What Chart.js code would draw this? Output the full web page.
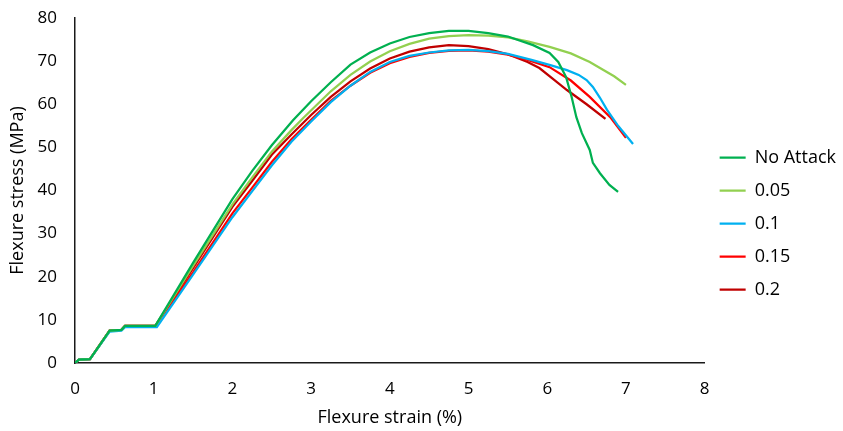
<!DOCTYPE html>
<html>
<head>
<meta charset="utf-8">
<script src="https://cdn.jsdelivr.net/npm/chart.js@4"></script>
<style>
    html, body { margin: 0; padding: 0; background: #fff; }
    #wrap { width: 843px; height: 431px; }
</style>
</head>
<body>
<div id="wrap"><canvas id="myChart"></canvas></div>
<script>
"use strict"

// strain (%) and stress (MPa)
const seriesNames = ["No Attack", "0.05", "0.1", "0.15", "0.2"]

const noAttackStrain = [0, 0.05, 0.19, 0.44, 0.59, 0.635, 1.02, 1.5, 2, 2.25, 2.5, 2.77, 3, 3.25, 3.5, 3.75, 4, 4.25, 4.5, 4.75, 5, 5.25, 5.5, 5.82, 6.03, 6.14, 6.24, 6.31, 6.37, 6.44, 6.54, 6.58, 6.67, 6.79, 6.9]
const noAttackStress = [0, 0.8, 0.9, 7.5, 7.7, 8.6, 8.6, 23.2, 38, 44.5, 50.5, 56.3, 60.7, 65.1, 69.2, 72, 74.1, 75.6, 76.5, 77, 77, 76.5, 75.7, 73.7, 71.9, 69.8, 66.3, 61.7, 57, 53.3, 49.4, 46.4, 44, 41.3, 39.7]

const strain005 = [0, 0.05, 0.19, 0.44, 0.59, 0.635, 1.02, 1.5, 2, 2.25, 2.5, 2.75, 2.9, 3.25, 3.5, 3.75, 4, 4.25, 4.5, 4.75, 5, 5.25, 5.5, 5.75, 6.03, 6.3, 6.54, 6.67, 6.85, 7.0]
const stress005 = [0, 0.8, 0.9, 7.5, 7.7, 8.6, 8.6, 22.5, 36.8, 43, 49, 54, 56.8, 63, 66.8, 69.9, 72.3, 74, 75.2, 75.8, 76, 75.9, 75.5, 74.6, 73.3, 71.8, 69.8, 68.4, 66.5, 64.5]

const strain01 = [0, 0.05, 0.19, 0.44, 0.59, 0.635, 1.04, 1.5, 2, 2.25, 2.5, 2.75, 3, 3.25, 3.5, 3.75, 4, 4.25, 4.5, 4.75, 5, 5.25, 5.5, 5.8, 6.05, 6.25, 6.4, 6.5, 6.58, 6.67, 6.76, 6.9, 7.09]
const stress01 = [0, 0.8, 0.9, 7.3, 7.5, 8.3, 8.3, 20.5, 33.8, 39.8, 45.8, 51.3, 56, 60.5, 64.3, 67.5, 69.8, 71.2, 72, 72.5, 72.6, 72.3, 71.7, 70.3, 69, 67.9, 66.8, 65.6, 64, 61.5, 58.7, 55, 50.8]

const strain015 = [0, 0.05, 0.19, 0.44, 0.59, 0.635, 1.02, 1.5, 2, 2.25, 2.5, 2.75, 3, 3.25, 3.5, 3.75, 4, 4.25, 4.5, 4.75, 5, 5.25, 5.5, 5.75, 6.03, 6.3, 6.54, 6.8, 7.0]
const stress015 = [0, 0.8, 0.9, 7.5, 7.7, 8.6, 8.6, 21, 34.7, 40.6, 46.6, 51.9, 56.4, 60.8, 64.3, 67.3, 69.5, 71, 71.9, 72.4, 72.5, 72.2, 71.5, 70.3, 68.6, 65.5, 61.7, 57, 52.2]

const strain02 = [0, 0.05, 0.19, 0.44, 0.59, 0.635, 1.02, 1.5, 2, 2.25, 2.5, 2.75, 3, 3.25, 3.5, 3.75, 4, 4.25, 4.5, 4.75, 5, 5.25, 5.5, 5.75, 5.9, 6.1, 6.25, 6.5, 6.74]
const stress02 = [0, 0.8, 0.9, 7.5, 7.7, 8.6, 8.6, 22, 36.2, 42.2, 48.3, 53, 57.5, 61.7, 65.3, 68.3, 70.6, 72.2, 73.2, 73.7, 73.5, 72.8, 71.6, 69.8, 68.4, 65.5, 63.3, 60, 56.6]

const xTicks = [0, 1, 2, 3, 4, 5, 6, 7, 8]
const yTicks = [0, 10, 20, 30, 40, 50, 60, 70, 80]

const lineColors = ["#00B050", "#92D050", "#00B0F0", "#FF0000", "#C00000"]

function makePoints(xs, ys) {
    let points = []
    for (let i = 0; i < xs.length; i++) {
        points.push({ x: xs[i], y: ys[i] })
    }
    return points
}

const allStrain = [noAttackStrain, strain005, strain01, strain015, strain02]
const allStress = [noAttackStress, stress005, stress01, stress015, stress02]

let datasets = []
for (let i = 0; i < seriesNames.length; i++) {
    datasets.push({
        label: seriesNames[i],
        data: makePoints(allStrain[i], allStress[i]),
        borderColor: lineColors[i],
        backgroundColor: lineColors[i],
        borderWidth: 2.25,
        pointRadius: 0,
        showLine: true,
        tension: 0
    })
}

const fontFamily = "'Open Sans', sans-serif"

var ctx = document.getElementById('myChart').getContext('2d');

var myChart = new Chart(ctx, {
    type: 'scatter',
    data: { datasets: datasets },
    options: {
        responsive: true,
        maintainAspectRatio: false,
        animation: false,
        layout: {
            padding: { left: 2, right: -3, top: 18, bottom: 2 }
        },
        plugins: {
            tooltip: { enabled: false },
            legend: {
                position: 'right',
                labels: {
                    usePointStyle: true,
                    pointStyle: 'line',
                    pointStyleWidth: 26,
                    boxHeight: 2,
                    padding: 15,
                    color: '#000',
                    font: { family: fontFamily, size: 18 }
                }
            }
        },
        scales: {
            x: {
                type: 'linear',
                min: 0,
                max: 8,
                afterBuildTicks: function (axis) {
                    axis.ticks = xTicks.map(function (v) { return { value: v } })
                },
                afterFit: function (axis) {
                    axis.height = 66
                },
                grid: { display: false, drawTicks: false },
                border: { display: true, color: '#1a1a1a', width: 1.5 },
                ticks: {
                    padding: 16,
                    color: '#000',
                    font: { family: fontFamily, size: 17 }
                },
                title: {
                    display: true,
                    text: 'Flexure strain (%)',
                    color: '#000',
                    padding: 0,
                    font: { family: fontFamily, size: 18 }
                }
            },
            y: {
                type: 'linear',
                min: 0,
                max: 80,
                afterBuildTicks: function (axis) {
                    axis.ticks = yTicks.map(function (v) { return { value: v } })
                },
                afterFit: function (axis) {
                    axis.width = 73
                    axis.paddingTop = 0
                },
                grid: { display: false, drawTicks: false },
                border: { display: true, color: '#1a1a1a', width: 1.5 },
                ticks: {
                    padding: 18,
                    color: '#000',
                    font: { family: fontFamily, size: 17 }
                },
                title: {
                    display: true,
                    text: 'Flexure stress (MPa)',
                    color: '#000',
                    padding: { top: 5, bottom: 0 },
                    font: { family: fontFamily, size: 18 }
                }
            }
        }
    }
});
</script>
</body>
</html>
